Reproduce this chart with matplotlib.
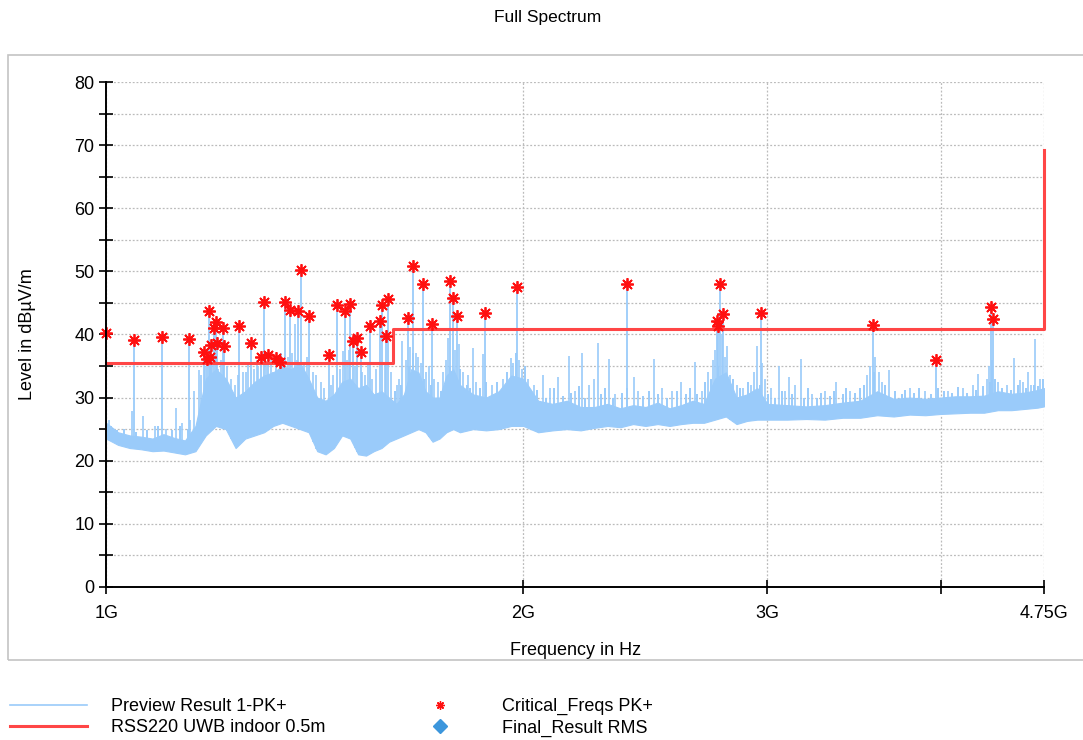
import numpy as np
import matplotlib.pyplot as plt
from matplotlib.lines import Line2D
from matplotlib.patches import Rectangle
from matplotlib.ticker import FixedLocator, NullLocator, MultipleLocator

plt.rcParams['font.family'] = ['Liberation Sans', 'DejaVu Sans']

# Preview scan (GHz, dBuV/m): noise floor and top of the dense trace
band_f = [1.00, 1.02, 1.04, 1.06, 1.08, 1.10, 1.12, 1.14, 1.16, 1.18,
          1.20, 1.22, 1.24, 1.26, 1.28, 1.30, 1.32, 1.34, 1.36, 1.38,
          1.40, 1.42, 1.44, 1.46, 1.48, 1.50, 1.52, 1.54, 1.56, 1.58,
          1.60, 1.62, 1.64, 1.66, 1.68, 1.70, 1.72, 1.74, 1.76, 1.78,
          1.80, 1.84, 1.88, 1.92, 1.96, 2.00, 2.05, 2.10, 2.15, 2.20,
          2.25, 2.30, 2.35, 2.40, 2.45, 2.50, 2.55, 2.60, 2.65, 2.70,
          2.75, 2.80, 2.85, 2.90, 2.95, 3.00, 3.10, 3.20, 3.30, 3.40,
          3.50, 3.60, 3.70, 3.80, 3.90, 4.00, 4.10, 4.20, 4.30, 4.40,
          4.50, 4.60, 4.70, 4.75]
band_lo = [23.5, 22.5, 22.0, 21.8, 21.5, 21.6, 21.3, 21.0, 21.5, 24.0,
           25.5, 25.0, 22.0, 23.5, 24.0, 24.5, 25.5, 26.0, 25.5, 25.0,
           24.5, 21.5, 21.0, 22.0, 24.0, 23.5, 21.0, 20.8, 21.5, 22.0,
           23.0, 23.5, 24.0, 24.5, 25.0, 24.5, 23.0, 23.5, 24.5, 25.0,
           24.5, 25.0, 24.8, 25.0, 25.5, 25.5, 24.5, 24.8, 25.0, 24.8,
           25.2, 25.5, 25.3, 25.8, 25.5, 25.8, 25.5, 25.8, 26.0, 26.0,
           26.5, 27.0, 25.8, 26.3, 26.5, 26.5, 26.5, 26.6, 26.5, 26.8,
           26.8, 27.2, 27.0, 27.3, 27.2, 27.4, 27.5, 27.6, 27.6, 28.0,
           28.0, 28.2, 28.4, 28.6]
band_hi = [26.0, 24.5, 24.0, 23.8, 23.5, 24.2, 23.6, 23.2, 25.5, 33.0,
           34.5, 33.0, 30.0, 31.0, 32.5, 33.5, 34.0, 35.0, 34.5, 35.5,
           33.0, 30.0, 29.5, 30.5, 32.5, 33.0, 31.5, 32.0, 30.5, 31.0,
           30.0, 29.0, 30.5, 34.5, 34.0, 31.0, 30.0, 30.0, 33.5, 34.5,
           32.0, 30.5, 30.0, 31.0, 33.5, 33.0, 29.5, 29.0, 29.5, 28.5,
           28.5, 29.0, 28.3, 28.8, 28.5, 29.2, 28.3, 28.8, 29.5, 29.0,
           33.0, 34.0, 30.0, 30.5, 31.5, 29.0, 28.8, 28.6, 28.8, 29.2,
           29.5, 31.0, 29.8, 30.0, 29.8, 30.0, 30.2, 30.2, 30.3, 31.0,
           30.6, 30.8, 31.2, 31.5]

# isolated peaks of the preview trace
spike_f = [1.005, 1.012, 1.044, 1.064, 1.085, 1.105, 1.124, 1.135, 1.150, 1.158,
           1.166, 1.170, 1.178, 1.192, 1.205, 1.210, 1.222, 1.230, 1.238, 1.244,
           1.255, 1.262, 1.266, 1.278, 1.284, 1.288, 1.305, 1.315, 1.320, 1.338,
           1.352, 1.362, 1.369, 1.372, 1.390, 1.395, 1.410, 1.418, 1.428, 1.435,
           1.452, 1.458, 1.474, 1.481, 1.492, 1.496, 1.512, 1.530, 1.538, 1.546,
           1.556, 1.565, 1.588, 1.605, 1.620, 1.628, 1.636, 1.645, 1.658, 1.672,
           1.680, 1.688, 1.700, 1.709, 1.725, 1.735, 1.750, 1.758, 1.764, 1.785,
           1.796, 1.810, 1.825, 1.839, 1.850, 1.869, 1.900, 1.935, 1.958, 1.965,
           1.985, 1.995, 2.015, 2.035, 2.066, 2.090, 2.118, 2.157, 2.180, 2.204,
           2.230, 2.248, 2.263, 2.305, 2.330, 2.403, 2.420, 2.484, 2.520, 2.560,
           2.600, 2.660, 2.690, 2.720, 2.740, 2.750, 2.780, 2.795, 2.805, 2.820,
           2.850, 2.880, 2.920, 2.935, 2.949, 2.975, 2.990, 3.020, 3.059, 3.090,
           3.110, 3.140, 3.173, 3.230, 3.300, 3.364, 3.440, 3.540, 3.560, 3.590,
           3.610, 3.630, 3.673, 3.800, 3.900, 4.050, 4.150, 4.220, 4.260, 4.320,
           4.338, 4.360, 4.400, 4.470, 4.522, 4.567, 4.590, 4.628, 4.650, 4.683,
           4.720]
spike_db = [26.5, 25.0, 27.9, 27.1, 25.5, 25.0, 28.4, 26.0, 26.5, 31.1,
            34.3, 33.5, 35.0, 36.0, 34.5, 36.0, 35.0, 33.0, 32.0, 33.5,
            34.0, 34.0, 35.5, 34.5, 36.0, 35.0, 35.5, 36.0, 34.0, 37.0,
            36.5, 37.0, 41.7, 36.0, 35.5, 36.5, 34.0, 33.5, 32.5, 31.5,
            32.0, 33.5, 34.5, 37.4, 36.0, 37.5, 35.0, 34.0, 33.5, 35.5,
            33.0, 34.5, 35.5, 34.0, 32.0, 33.0, 39.0, 36.0, 38.0, 37.0,
            36.5, 35.5, 34.0, 35.0, 33.0, 32.5, 34.0, 36.0, 39.5, 37.5,
            38.5, 34.0, 33.5, 37.9, 32.5, 36.9, 32.0, 33.0, 36.3, 35.5,
            36.0, 34.5, 33.0, 32.0, 33.5, 31.5, 33.2, 36.6, 31.0, 37.1,
            32.0, 33.0, 38.7, 36.1, 30.5, 33.2, 31.0, 36.1, 31.5, 31.0,
            32.5, 35.6, 31.0, 34.0, 36.0, 37.5, 40.0, 36.5, 38.2, 33.5,
            32.0, 31.5, 32.0, 34.0, 38.2, 35.5, 33.0, 31.5, 35.0, 31.0,
            33.2, 32.0, 36.1, 30.5, 31.0, 32.4, 31.0, 33.5, 35.0, 36.5,
            34.0, 32.5, 34.4, 31.5, 31.0, 31.0, 31.5, 32.0, 33.8, 33.0,
            35.0, 36.0, 32.5, 32.0, 36.3, 32.8, 32.5, 34.0, 32.0, 39.3,
            33.0]

# small ripple peaks along the top of the trace
ripple_f = [1.008, 1.018, 1.030, 1.050, 1.070, 1.090, 1.115, 1.130, 1.145, 1.615,
            1.633, 1.655, 1.665, 1.695, 1.715, 1.745, 1.770, 1.800, 1.820, 1.830,
            1.860, 1.880, 1.915, 1.945, 1.975, 2.005, 2.025, 2.045, 2.075, 2.105,
            2.135, 2.165, 2.195, 2.215, 2.275, 2.290, 2.320, 2.355, 2.375, 2.440,
            2.465, 2.500, 2.540, 2.580, 2.620, 2.640, 2.670, 2.705, 2.730, 2.765,
            2.835, 2.865, 2.905, 2.965, 3.005, 3.040, 3.075, 3.125, 3.190, 3.210,
            3.260, 3.280, 3.330, 3.350, 3.400, 3.420, 3.470, 3.500, 3.520, 3.580,
            3.650, 3.710, 3.750, 3.770, 3.830, 3.860, 3.940, 3.980, 4.020, 4.080,
            4.120, 4.180, 4.240, 4.290, 4.340, 4.380, 4.430, 4.500, 4.550, 4.610,
            4.670, 4.700, 4.740]
ripple_db = [25.5, 24.8, 25.0, 24.5, 24.8, 25.5, 24.8, 25.5, 25.0, 31.0,
             32.0, 35.0, 37.0, 33.0, 32.0, 31.0, 35.0, 34.5, 32.0, 31.5,
             31.5, 32.5, 32.5, 34.0, 37.0, 35.0, 30.5, 31.2, 30.0, 31.5,
             30.2, 30.8, 31.8, 30.0, 30.5, 31.5, 30.0, 30.8, 31.5, 30.2,
             31.0, 30.5, 30.0, 31.0, 30.5, 31.5, 30.5, 32.5, 33.0, 35.0,
             33.0, 31.5, 32.5, 32.0, 30.5, 30.0, 31.0, 30.5, 30.0, 31.5,
             30.0, 30.8, 30.2, 31.0, 30.5, 31.5, 30.8, 31.5, 32.0, 34.0,
             32.0, 31.0, 30.5, 31.2, 30.8, 31.5, 30.6, 31.5, 31.0, 30.8,
             31.6, 30.8, 31.2, 31.8, 32.5, 33.0, 31.5, 31.2, 32.0, 31.5,
             32.0, 31.8, 33.0]

# Critical_Freqs PK+
crit_f = [1.000, 1.047, 1.097, 1.147, 1.176, 1.182, 1.187, 1.188, 1.190, 1.196,
          1.200, 1.202, 1.214, 1.216, 1.248, 1.272, 1.294, 1.299, 1.309, 1.327,
          1.334, 1.347, 1.357, 1.376, 1.383, 1.400, 1.447, 1.468, 1.488, 1.500,
          1.506, 1.517, 1.526, 1.549, 1.575, 1.582, 1.592, 1.598, 1.651, 1.666,
          1.694, 1.718, 1.772, 1.780, 1.790, 1.876, 1.978, 2.376, 2.759, 2.765,
          2.773, 2.786, 2.967, 3.575, 3.970, 4.353, 4.365]
crit_db = [40.2, 39.1, 39.6, 39.3, 37.3, 36.1, 43.8, 36.5, 38.4, 41.1,
           42.0, 38.6, 41.1, 38.1, 41.4, 38.7, 36.4, 45.2, 36.7, 36.2,
           35.7, 45.2, 43.9, 43.8, 50.2, 43.0, 36.8, 44.6, 43.8, 44.8,
           38.9, 39.4, 37.3, 41.4, 42.2, 44.6, 39.8, 45.6, 42.6, 50.9,
           48.0, 41.6, 48.4, 45.8, 42.9, 43.4, 47.6, 48.0, 42.1, 41.4,
           48.0, 43.3, 43.4, 41.5, 36.0, 44.4, 42.5]

# RSS220 UWB indoor 0.5m limit
limit_f = [1.00, 1.61, 4.75, 4.75]
limit_db = [35.5, 40.8, 40.8, 69.2]

trace_c = '#9ACBFA'
limit_c = '#FF4646'

fig = plt.figure(figsize=(10.83, 7.40), dpi=100)
ax = fig.add_axes([0.098, 0.207, 0.866, 0.682])

# grey frame around the plot area
fig.patches.append(Rectangle((0.0074, 0.108), 1.0, 0.818, transform=fig.transFigure,
                             fill=False, edgecolor='#C4C4C4', lw=1.2))

ax.fill_between(band_f, band_lo, band_hi, color=trace_c, lw=0.8, zorder=2)
ax.vlines(ripple_f, np.interp(ripple_f, band_f, band_lo), ripple_db,
          color=trace_c, lw=1.4, zorder=2)
ax.vlines(spike_f, np.interp(spike_f, band_f, band_lo), spike_db,
          color=trace_c, lw=1.2, zorder=2)
ax.vlines(crit_f, np.interp(crit_f, band_f, band_lo), crit_db,
          color=trace_c, lw=1.3, zorder=2)
ax.plot(limit_f, limit_db, drawstyle='steps-post', color=limit_c, lw=2.2,
        zorder=3, clip_on=False)
ax.plot(crit_f, crit_db, ls='none', marker=(8, 2, 0), ms=9, mew=1.3,
        color='#FF1010', zorder=4, clip_on=False)

ax.set_xscale('log')
ax.set_xlim(1.0, 4.75)
ax.set_ylim(0, 80)
ax.xaxis.set_major_locator(FixedLocator([1, 2, 3, 4, 4.75]))
ax.xaxis.set_minor_locator(NullLocator())
ax.set_xticklabels(['1G', '2G', '3G', '', '4.75G'])
ax.yaxis.set_major_locator(MultipleLocator(10))
ax.yaxis.set_minor_locator(MultipleLocator(5))

ax.grid(True, which='both', color='#BBBBBB', lw=0.9, ls=(0, (1.5, 1.5)), zorder=0)
for s in ['top', 'right']:
    ax.spines[s].set_visible(False)
for s in ['left', 'bottom']:
    ax.spines[s].set_linewidth(1.4)
    ax.spines[s].set_zorder(5)
ax.tick_params(which='both', direction='inout', length=10, width=1.2, labelsize=13)
ax.tick_params(axis='x', pad=8)

ax.set_xlabel('Frequency in Hz', fontsize=13)
ax.xaxis.set_label_coords(0.5, -0.11)
ax.set_ylabel('Level in dB\u00b5V/m', fontsize=13)
ax.yaxis.set_label_coords(-0.075, 0.5)

fig.text(0.506, 0.977, 'Full Spectrum', ha='center', va='center', fontsize=12.5)

handles = [Line2D([], [], color=trace_c, lw=1.2),
           Line2D([], [], color=limit_c, lw=2.2),
           Line2D([], [], ls='none', marker=(8, 2, 0), ms=6, mew=1, color='#FF1010'),
           Line2D([], [], ls='none', marker='D', ms=7, color='#3C96DC')]
labels = ['Preview Result 1-PK+', 'RSS220 UWB indoor 0.5m',
          'Critical_Freqs PK+', 'Final_Result RMS']
fig.legend(handles, labels, loc='upper left', bbox_to_anchor=(0.009, 0.057),
           ncol=2, frameon=False, fontsize=13, handlelength=4.3, handletextpad=1.3,
           columnspacing=4.2, labelspacing=0.25, borderpad=0, borderaxespad=0)

fig.savefig('out.png', dpi=100)
